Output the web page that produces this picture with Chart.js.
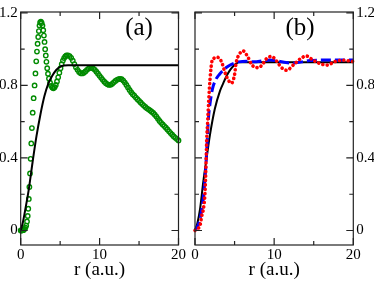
<!DOCTYPE html>
<html>
<head>
<meta charset="utf-8">
<script src="https://cdn.jsdelivr.net/npm/chart.js@4"></script>
<style>
  html, body { margin: 0; padding: 0; background: #fff; }
  #wrap { position: relative; width: 374px; height: 281px; }
  .panel { position: absolute; top: 0; width: 187px; height: 281px; }
</style>
</head>
<body>
<div id="wrap">
  <div class="panel" style="left:0"><canvas id="chartA" width="187" height="281"></canvas></div>
  <div class="panel" style="left:187px"><canvas id="chartB" width="187" height="281"></canvas></div>
</div>
<script>
const FONT = '"Liberation Serif", "DejaVu Serif", serif';

// axis ticks
const xTicks = [0, 5, 10, 15, 20];
const xLabels = ['0', '', '10', '', '20'];
const yTicks = [0, 0.2, 0.4, 0.6, 0.8, 1.0, 1.2];
const yLabels = ['0', '', '0.4', '', '0.8', '', '1.2'];

// panel (a): green circles
const greenR = [0, 0.1, 0.2, 0.3, 0.4, 0.5, 0.6, 0.7, 0.8, 0.89, 0.96, 1.03, 1.1, 1.18, 1.26, 1.34, 1.42, 1.52,
  1.64, 1.76, 1.87, 1.97, 2.06, 2.14, 2.22, 2.3, 2.38, 2.46, 2.56, 2.66, 2.76, 2.86, 2.94, 3.02, 3.1, 3.18,
  3.26, 3.36, 3.46, 3.58, 3.72, 3.86, 4.0, 4.15, 4.3, 4.45, 4.6, 4.75, 4.9, 5.05, 5.2, 5.35, 5.5, 5.65, 5.8,
  6.0, 6.2, 6.4, 6.6, 6.8, 7.0, 7.2, 7.4, 7.6, 7.8, 8.0, 8.2, 8.4, 8.6, 8.8, 9.0, 9.2, 9.4, 9.6, 9.8,
  10.0, 10.2, 10.4, 10.6, 10.8, 11.0, 11.2, 11.4, 11.6, 11.8, 12.0, 12.2, 12.4, 12.6, 12.8, 13.0, 13.2, 13.4,
  13.6, 13.8, 14.0, 14.2, 14.4, 14.6, 14.8, 15.0, 15.2, 15.4, 15.6, 15.8, 16.0, 16.2, 16.4, 16.6, 16.8, 17.0,
  17.2, 17.4, 17.6, 17.8, 18.0, 18.2, 18.4, 18.6, 18.8, 19.0, 19.2, 19.4, 19.6, 19.8, 20.0];
const greenV = [0, 0, 0.001, 0.002, 0.004, 0.009, 0.016, 0.027, 0.05, 0.08, 0.12, 0.174, 0.24, 0.315, 0.395, 0.48, 0.565, 0.65,
  0.73, 0.80, 0.866, 0.933, 0.987, 1.03, 1.067, 1.10, 1.13, 1.147, 1.152, 1.145, 1.13, 1.105, 1.075, 1.04, 1.0, 0.965,
  0.93, 0.895, 0.865, 0.838, 0.815, 0.798, 0.788, 0.784, 0.79, 0.803, 0.822, 0.845, 0.87, 0.895, 0.918, 0.937, 0.951, 0.96, 0.965,
  0.966, 0.962, 0.952, 0.937, 0.918, 0.9, 0.886, 0.874, 0.867, 0.866, 0.870, 0.877, 0.886, 0.893, 0.897, 0.897, 0.893, 0.886, 0.876, 0.865,
  0.853, 0.842, 0.831, 0.821, 0.812, 0.806, 0.803, 0.804, 0.809, 0.817, 0.825, 0.831, 0.835, 0.836, 0.834, 0.827, 0.816, 0.803,
  0.789, 0.775, 0.763, 0.752, 0.743, 0.733, 0.724, 0.715, 0.706, 0.697, 0.689, 0.681, 0.674, 0.668, 0.662, 0.655, 0.648, 0.639,
  0.628, 0.616, 0.604, 0.594, 0.585, 0.576, 0.567, 0.557, 0.547, 0.537, 0.528, 0.519, 0.511, 0.504, 0.497];

// panel (a): black line
const blackAR = [0, 0.3, 0.6, 1.0, 1.5, 2.0, 2.5, 3.0, 3.5, 4.0, 4.5, 5.0, 5.5, 6.0, 20];
const blackAV = [0, 0.05, 0.12, 0.22, 0.375, 0.52, 0.64, 0.74, 0.81, 0.853, 0.885, 0.903, 0.91, 0.912, 0.912];

// panel (b): black line
const blackBR = [0, 0.3, 0.63, 1.05, 1.5, 1.9, 2.5, 3.16, 3.6, 4.0, 4.4, 4.85, 5.2, 5.5, 20];
const blackBV = [0, 0.04, 0.116, 0.27, 0.41, 0.53, 0.67, 0.77, 0.815, 0.853, 0.883, 0.907, 0.92, 0.928, 0.928];

// panel (b): blue dashed
const blueR = [0, 0.4, 0.8, 1.1, 1.35, 1.55, 1.7, 1.9, 2.2, 2.6, 3.1, 3.6, 4.0, 4.5, 5.0, 5.5, 6.5, 7.5, 8.5,
  9.5, 10.5, 11.5, 12.4, 13.5, 14.5, 16, 17.5, 19, 20];
const blueV = [0, 0.03, 0.1, 0.2, 0.34, 0.5, 0.62, 0.7, 0.78, 0.83, 0.862, 0.885, 0.9, 0.914, 0.924, 0.93, 0.934, 0.93, 0.935,
  0.94, 0.934, 0.926, 0.923, 0.93, 0.937, 0.94, 0.941, 0.94, 0.94];

// panel (b): red dotted
const redR = [0, 0.3, 0.63, 0.85, 1.05, 1.27, 1.39, 1.48, 1.6, 1.69, 1.8, 1.9, 2.1, 2.4, 2.74, 3.1, 3.4, 3.8, 4.2, 4.6,
  5.0, 5.2, 5.6, 6.08, 6.7, 7.1, 7.55, 8.0, 8.6, 9.0, 9.66, 10.3, 10.76, 11.1, 11.56, 12.6, 13.5, 14.1, 14.7,
  15.6, 16.7, 17.7, 18.8, 19.8, 20];
const redV = [0, 0.01, 0.027, 0.08, 0.116, 0.213, 0.364, 0.5, 0.6, 0.68, 0.77, 0.836, 0.924, 0.95, 0.956, 0.948, 0.925, 0.87, 0.83, 0.812,
  0.86, 0.925, 0.972, 0.99, 0.955, 0.92, 0.9, 0.898, 0.92, 0.946, 0.96, 0.935, 0.907, 0.892, 0.884, 0.92, 0.953, 0.962, 0.946,
  0.924, 0.912, 0.932, 0.939, 0.933, 0.932];

const toPts = (xs, ys) => xs.map((r, i) => ({ x: r, y: ys[i] }));

// frame, inward ticks and panel letter
const frameTicks = {
  id: 'frameTicks',
  afterDatasetsDraw(chart, args, opts) {
    const { ctx, chartArea: a, scales: { x, y } } = chart;
    ctx.save();
    ctx.strokeStyle = '#222';
    ctx.lineWidth = 1.2;
    ctx.strokeRect(a.left, a.top, a.right - a.left, a.bottom - a.top);
    ctx.beginPath();
    x.ticks.forEach((t, i) => {
      const px = x.getPixelForValue(t.value);
      const len = i % 2 ? 4 : 7;
      ctx.moveTo(px, a.bottom); ctx.lineTo(px, a.bottom - len);
      ctx.moveTo(px, a.top); ctx.lineTo(px, a.top + len);
    });
    y.ticks.forEach((t, i) => {
      const py = y.getPixelForValue(t.value);
      const len = i % 2 ? 4 : 7;
      ctx.moveTo(a.left, py); ctx.lineTo(a.left + len, py);
      ctx.moveTo(a.right, py); ctx.lineTo(a.right - len, py);
    });
    ctx.stroke();
    ctx.fillStyle = '#000';
    ctx.font = '25px ' + FONT;
    ctx.textAlign = 'center';
    ctx.textBaseline = 'alphabetic';
    ctx.fillText(opts.text, opts.x, 35);
    ctx.restore();
  }
};

function makeScales(side) {
  return {
    x: {
      type: 'linear', min: 0, max: 20,
      afterBuildTicks: s => { s.ticks = xTicks.map(v => ({ value: v })); },
      afterFit: s => { s.height = 36; },
      grid: { display: false, drawTicks: false, tickLength: 0 },
      border: { display: false },
      ticks: {
        color: '#000', padding: 1, maxRotation: 0, autoSkip: false,
        font: { family: FONT, size: 15 },
        callback: (v, i) => xLabels[i]
      },
      title: {
        display: true, text: 'r (a.u.)', color: '#000',
        font: { family: FONT, size: 19, lineHeight: 1 },
        padding: { top: 0, bottom: 1 }
      }
    },
    y: {
      type: 'linear', position: side, min: -0.08, max: 1.205,
      afterBuildTicks: s => { s.ticks = yTicks.map(v => ({ value: v })); },
      afterFit: s => { s.width = 20.7; },
      grid: { display: false, drawTicks: false, tickLength: 0 },
      border: { display: false },
      ticks: {
        color: '#000', padding: 3, autoSkip: false,
        font: { family: FONT, size: 15 },
        callback: (v, i) => yLabels[i]
      }
    }
  };
}

const common = {
  responsive: false,
  animation: false,
  events: [],
  plugins: { legend: { display: false }, tooltip: { enabled: false } }
};

new Chart(document.getElementById('chartA'), {
  type: 'scatter',
  data: {
    datasets: [{
      data: toPts(blackAR, blackAV),
      showLine: true, borderColor: '#000', borderWidth: 2, pointRadius: 0,
      cubicInterpolationMode: 'monotone', clip: false
    }, {
      data: toPts(greenR, greenV),
      showLine: false, pointStyle: 'circle', pointRadius: 2.2,
      pointBorderWidth: 1.4, pointBorderColor: '#008b00', pointBackgroundColor: 'rgba(0,0,0,0)', clip: false
    }]
  },
  options: {
    ...common,
    layout: { padding: { top: 4, right: 8, left: 0, bottom: 0 } },
    scales: makeScales('left'),
    plugins: { ...common.plugins, frameTicks: { text: '(a)', x: 139 } }
  },
  plugins: [frameTicks]
});

new Chart(document.getElementById('chartB'), {
  type: 'scatter',
  data: {
    datasets: [{
      data: toPts(redR, redV),
      showLine: true, borderColor: '#ff0000', borderWidth: 3.6, borderDash: [0.1, 4.3],
      borderCapStyle: 'round', pointRadius: 0, cubicInterpolationMode: 'monotone', clip: false
    }, {
      data: toPts(blueR, blueV),
      showLine: true, borderColor: '#0000ff', borderWidth: 3, borderDash: [10, 4],
      pointRadius: 0, cubicInterpolationMode: 'monotone', clip: false
    }, {
      data: toPts(blackBR, blackBV),
      showLine: true, borderColor: '#000', borderWidth: 2, pointRadius: 0,
      cubicInterpolationMode: 'monotone', clip: false
    }]
  },
  options: {
    ...common,
    layout: { padding: { top: 4, right: 0, left: 8, bottom: 0 } },
    scales: makeScales('right'),
    plugins: { ...common.plugins, frameTicks: { text: '(b)', x: 113 } }
  },
  plugins: [frameTicks]
});
</script>
</body>
</html>
